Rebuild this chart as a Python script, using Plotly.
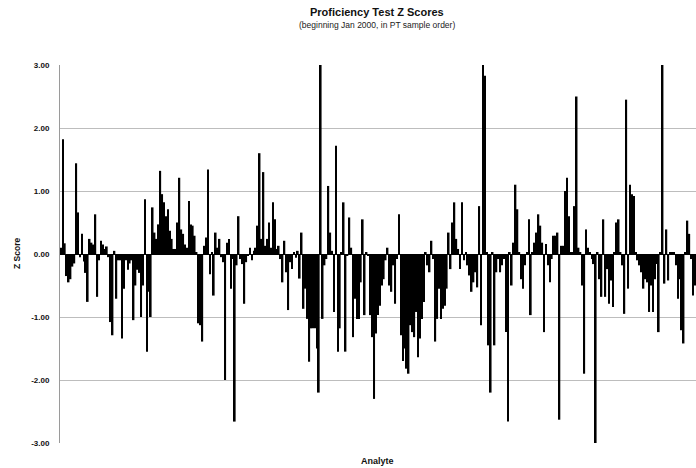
import plotly.graph_objects as go

# Z scores in PT sample order
z_part1 = [0.1, 1.82, 0.17, -0.35, -0.45, -0.4, -0.2, -0.15, 1.44, 0.66, -0.05, 0.32, -0.12, -0.3, -0.76, 0.24, 0.18, 0.15, 0.63, -0.68, -0.1, 0.21, 0.15, 0.08, 0.12, -0.05, -1.08, -1.29, 0.05,
           -0.71, -0.1, -0.1, -1.34, -0.55, -0.1, -0.25, -0.15, -0.1, -1.05, -0.5, -0.25, -0.3, -1.0, -0.5, 0.87, -1.55, -0.6, -1.0, 0.74, 0.34, 0.24, 0.47, 1.32, 0.95, 0.82, 0.6,
           0.71, 0.37, 0.24, 0.08, 0.08, 0.5, 1.21, 0.39, 0.32, 0.15, 0.1, 0.84, 0.47, 0.45, 0.29, 0.02, -1.1, -1.13, -1.39, 0.13, 0.26, 1.34, -0.32, 0.02, -0.66, 0.34, 0.1, 0.24]
z_part2 = [-0.05, -0.13, -2.0, 0.18, 0.24, -0.55, -0.08, -2.66, -0.18, 0.6, -0.08, -0.16, -0.79, -0.13, -0.03, 0.1, -0.1, 0.05, 0.1, 0.45, 1.6, 0.24, 1.3, 0.13, 0.24, 0.5, 0.1, 0.82,
           0.55, 0.08, 0.13, -0.08, -0.45, 0.21, -0.29, -0.89, -0.13, -0.24, 0.03, -0.06, 0.05, -0.39, 0.34, -0.87, -0.55, -1.03, -1.71, -1.18, -1.18, -1.18, -1.5, -2.2, 3.0, -1.03, -0.18, -0.08, 1.08,
           0.34, 0.05, -0.92, 1.72, -1.55, -1.18, 0.02, 0.82, -1.55, -0.02, 0.58, 0.1, -1.32, -0.71, -1.03, -1.03, -0.45, 0.55, -0.97, 0.03, -0.03, -0.97, -1.32, -2.3, -1.26, -0.97, -0.82, -0.5, -0.4]
z_part3 = [-0.1, 0.1, -0.5, -0.6, -0.18, -0.79, -0.08, 0.63, -1.29, -1.7, -1.5, -1.82, -1.9, -1.13, -1.24, -1.32, -0.92, -1.64, -1.34, -1.03, -0.76, 0.02, -0.18, -0.29, 0.21, -0.08, -1.39, -1.03,
           -0.55, -1.03, -0.87, -0.82, -0.55, 0.34, -0.24, 0.5, 0.82, 0.24, 0.08, -0.24, 0.82, -0.1, 0.03, -0.18, -0.34, -0.6, -0.45, -0.29, -0.53, 0.76, -1.13, 3.0, 2.83, 0.02, -1.45, -2.2,
           0.02, -1.45, -0.29, -0.08, -0.29, -0.18, -0.08, -1.24, -2.66, 0.02, -0.5, 0.18, 1.1, 0.71, 0.02, -0.4, -0.55, -0.18, 0.02, 0.55, -0.97, 0.02, 0.18, 0.34, 0.63, 0.45, 0.18, -1.24]
z_part4 = [0.16, -0.18, -0.45, -0.08, 0.29, 0.29, 0.34, -2.63, 0.13, 0.13, 1.0, 1.21, 0.6, 0.03, 0.02, 0.76, 2.5, 0.1, 0.02, -0.5, -1.9, 0.39, 0.1, 0.02, -0.08, -0.16, -3.0, 0.02, -0.4,
           -0.68, 0.55, -0.68, -0.24, -0.79, -0.42, -0.84, 0.02, 0.5, 0.55, 0.02, -0.18, -0.95, 2.45, -0.55, 1.1, 0.95, 0.92, 0.02, -0.1, -0.18, -0.29, -0.55, -0.4, -0.45, -0.92, -0.5, -0.92,
           -0.4, -0.16, -1.24, 0.02, 3.0, -0.47, 0.39, -0.42, 0.03, 0.02, 0.02, -0.18, -0.71, -0.4, -1.21, -1.42, 0.02, 0.53, 0.32, -0.08, -0.66, -0.5, -0.84]

z_scores = z_part1 + z_part2 + z_part3 + z_part4
samples = list(range(len(z_scores)))

y_ticks = [-3, -2, -1, 0, 1, 2, 3]
y_tick_labels = ["-3.00", "-2.00", "-1.00", "0.00", "1.00", "2.00", "3.00"]

W, H = 696, 468
L, T, B = 60, 65, 25

fig = go.Figure(go.Bar(x=samples, y=z_scores, marker=dict(color="black", line=dict(width=0))))

fig.update_layout(
    width=W, height=H,
    margin=dict(l=L, r=0, t=T, b=B),
    paper_bgcolor="white", plot_bgcolor="white",
    bargap=0.12, showlegend=False,
    font=dict(family="Liberation Sans, Arial", color="#111"),
)
# the reference chart is cropped on the right, so the visible window ends around sample 333
fig.update_xaxes(range=[-0.52, 332.5], showticklabels=False, showgrid=False,
                 zeroline=False, showline=False, ticks="")
fig.update_yaxes(range=[-3, 3], tickvals=y_ticks, ticktext=["<b>%s</b>" % t for t in y_tick_labels],
                 tickfont=dict(size=8, color="#111"), showgrid=True, gridcolor="#bdbdbd", gridwidth=1,
                 zeroline=True, zerolinecolor="black", zerolinewidth=1,
                 showline=True, linecolor="#9a9a9a", linewidth=1, ticks="", ticklabelstandoff=8)

fig.add_annotation(text="<b>Proficiency Test Z Scores</b>", xref="paper", yref="paper",
                   x=(377 - L) / (W - L), y=1 + (T - 12) / (H - T - B), showarrow=False,
                   font=dict(size=11, color="#111"), xanchor="center", yanchor="middle")
fig.add_annotation(text="(beginning Jan 2000, in PT sample order)", xref="paper", yref="paper",
                   x=(377 - L) / (W - L), y=1 + (T - 25) / (H - T - B), showarrow=False,
                   font=dict(size=8.5, color="#222"), xanchor="center", yanchor="middle")
fig.add_annotation(text="<b>Z Score</b>", xref="paper", yref="paper",
                   x=-(L - 17) / (W - L), y=0.5, showarrow=False, textangle=-90,
                   font=dict(size=8.5, color="#111"), xanchor="center", yanchor="middle")
fig.add_annotation(text="<b>Analyte</b>", xref="paper", yref="paper",
                   x=(377 - L) / (W - L), y=-(461 - (H - B)) / (H - T - B), showarrow=False,
                   font=dict(size=9, color="#111"), xanchor="center", yanchor="middle")

fig.write_html("out.html")
